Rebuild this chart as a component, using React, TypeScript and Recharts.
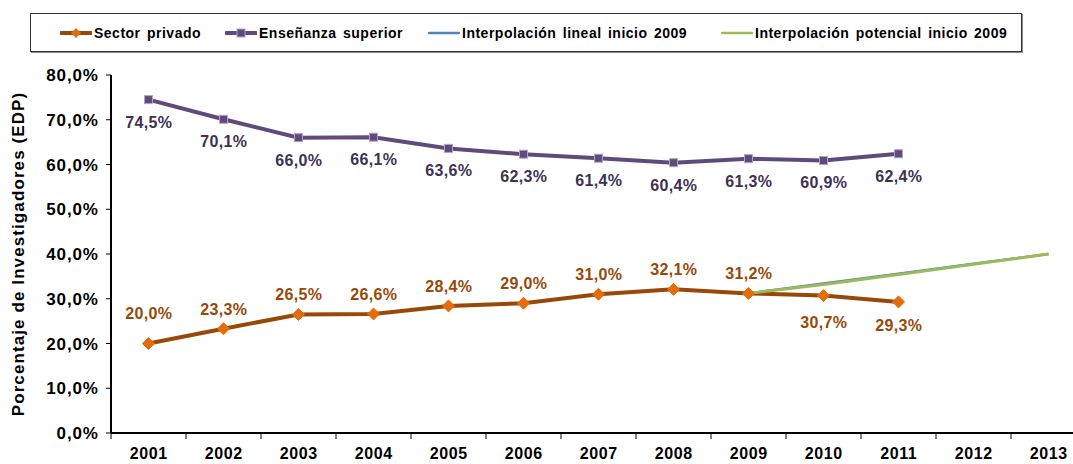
import React from 'react';
import { LineChart, Line, XAxis, YAxis, LabelList } from 'recharts';

const years = ['2001', '2002', '2003', '2004', '2005', '2006', '2007', '2008', '2009', '2010', '2011', '2012', '2013'];
const sectorPrivado: (number | null)[] = [20.0, 23.3, 26.5, 26.6, 28.4, 29.0, 31.0, 32.1, 31.2, 30.7, 29.3, null, null];
const ensenanzaSuperior: (number | null)[] = [74.5, 70.1, 66.0, 66.1, 63.6, 62.3, 61.4, 60.4, 61.3, 60.9, 62.4, null, null];
const interpLineal: (number | null)[] = [null, null, null, null, null, null, null, null, 31.2, 33.4, 35.6, 37.8, 40.0];
const interpPotencial: (number | null)[] = [null, null, null, null, null, null, null, null, 31.2, 33.2, 35.4, 37.7, 40.0];
const yTicks = [0, 10, 20, 30, 40, 50, 60, 70, 80];

const data = years.map((y, i) => ({
  year: y,
  sector: sectorPrivado[i],
  ens: ensenanzaSuperior[i],
  lin: interpLineal[i],
  pot: interpPotencial[i],
}));

const FONT = '"Liberation Sans", Arial, sans-serif';
const fmt = (v: number) => v.toFixed(1).replace('.', ',') + '%';

const C_SECTOR_LINE = '#984807';
const C_SECTOR_DOT = '#E46C0A';
const C_ENS_LINE = '#604A7B';
const C_ENS_LABEL = '#403152';
const C_LIN = '#4F81BD';
const C_POT = '#9BBB59';

const BAND = 75;

const XTick = (props: any) => {
  const { x, y, payload, index } = props;
  return (
    <g>
      <line x1={x - BAND / 2} y1={y} x2={x - BAND / 2} y2={y + 6} stroke="#000" strokeWidth={1} />
      {index === years.length - 1 && (
        <line x1={x + BAND / 2} y1={y} x2={x + BAND / 2} y2={y + 6} stroke="#000" strokeWidth={1} />
      )}
      <text x={x + 0.3} y={y + 26} textAnchor="middle" fontFamily={FONT} fontWeight="bold" fontSize={16} letterSpacing={0.6} fill="#000">
        {payload.value}
      </text>
    </g>
  );
};

const YTick = (props: any) => {
  const { x, y, payload } = props;
  return (
    <text x={x + 0.9} y={y} dy="0.36em" textAnchor="end" fontFamily={FONT} fontWeight="bold" fontSize={17} letterSpacing={0.9} fill="#000">
      {fmt(payload.value)}
    </text>
  );
};

const DiamondDot = (props: any) => {
  const { cx, cy, value } = props;
  if (value == null || cx == null || cy == null) return null;
  const r = 6;
  return <path d={`M${cx},${cy - r}L${cx + r},${cy}L${cx},${cy + r}L${cx - r},${cy}Z`} fill={C_SECTOR_DOT} stroke={C_SECTOR_DOT} strokeWidth={1} />;
};

const SquareDot = (props: any) => {
  const { cx, cy, value } = props;
  if (value == null || cx == null || cy == null) return null;
  const s = 8;
  return <rect x={cx - s / 2} y={cy - s / 2} width={s} height={s} fill={C_ENS_LINE} stroke="#B3A2C7" strokeWidth={1} />;
};

const sectorLabel = (props: any) => {
  const { x, y, value, index } = props;
  if (value == null) return null;
  let dy = -20;
  if (index === 0) dy = -31;
  if (index === 9) dy = 26;
  if (index === 10) dy = 23;
  return (
    <text x={x + 0.3} y={y + dy} dy={6} textAnchor="middle" fontFamily={FONT} fontWeight="bold" fontSize={16} letterSpacing={0.3} fill={C_SECTOR_LINE}>
      {fmt(value)}
    </text>
  );
};

const ensLabel = (props: any) => {
  const { x, y, value } = props;
  if (value == null) return null;
  return (
    <text x={x + 0.3} y={y + 22} dy={6} textAnchor="middle" fontFamily={FONT} fontWeight="bold" fontSize={16} letterSpacing={0.3} fill={C_ENS_LABEL}>
      {fmt(value)}
    </text>
  );
};

const legendItems = [
  { name: 'Sector privado', color: C_SECTOR_LINE, marker: 'diamond', left: 60 },
  { name: 'Enseñanza superior', color: C_ENS_LINE, marker: 'square', left: 225 },
  { name: 'Interpolación lineal inicio 2009', color: C_LIN, marker: 'none', left: 428 },
  { name: 'Interpolación potencial inicio 2009', color: C_POT, marker: 'none', left: 721 },
];

const LegendBox = () => (
  <div
    style={{
      position: 'absolute',
      left: 30,
      top: 13,
      width: 990,
      height: 37,
      border: '1px solid #333',
      boxShadow: '1px 1px 0 #888',
      background: '#fff',
    }}
  >
    {legendItems.map((it) => (
      <div key={it.name} style={{ position: 'absolute', left: it.left - 31, top: 0, height: 37, display: 'flex', alignItems: 'center' }}>
        <svg width={32} height={12} style={{ display: 'block' }}>
          <line x1={1} y1={6} x2={31} y2={6} stroke={it.color} strokeWidth={it.marker === 'none' ? 2.5 : 4} strokeLinecap="round" />
          {it.marker === 'diamond' && <path d="M16,1L21,6L16,11L11,6Z" fill={C_SECTOR_DOT} />}
          {it.marker === 'square' && <rect x={12} y={2} width={8} height={8} fill={C_ENS_LINE} stroke="#B3A2C7" strokeWidth={1} />}
        </svg>
        <span style={{ fontFamily: FONT, fontWeight: 'bold', fontSize: 14, color: '#000', marginLeft: 2, whiteSpace: 'nowrap', letterSpacing: 0.5, wordSpacing: 2 }}>
          {it.name}
        </span>
      </div>
    ))}
  </div>
);

export default function App() {
  return (
    <div style={{ position: 'absolute', left: 0, top: 0, width: 1073, height: 464, overflow: 'hidden', background: '#fff' }}>
      <LineChart width={1100} height={464} data={data} margin={{ top: 75, right: 14, bottom: 0, left: 41 }}>
        <XAxis
          dataKey="year"
          scale="band"
          height={31}
          axisLine={{ stroke: '#000', strokeWidth: 2 }}
          tickLine={false}
          tickSize={0}
          tickMargin={0}
          tick={<XTick />}
          interval={0}
        />
        <YAxis
          domain={[0, 80]}
          ticks={yTicks}
          width={70}
          interval={0}
          axisLine={{ stroke: '#000', strokeWidth: 2 }}
          tickLine={{ stroke: '#000', strokeWidth: 1 }}
          tickSize={5}
          tickMargin={8}
          tick={<YTick />}
          label={{
            value: 'Porcentaje de Investigadores (EDP)',
            position: 'insideLeft',
            content: () => (
              <text x={18} y={254} transform={`rotate(-90 18 254)`} textAnchor="middle" dominantBaseline="central" fontFamily={FONT} fontWeight="bold" fontSize={17} letterSpacing={1.1} fill="#000">
                Porcentaje de Investigadores (EDP)
              </text>
            ),
          }}
        />
        <Line dataKey="sector" name="Sector privado" stroke={C_SECTOR_LINE} strokeWidth={4} dot={<DiamondDot />} isAnimationActive={false} connectNulls={false}>
          <LabelList dataKey="sector" content={sectorLabel} />
        </Line>
        <Line dataKey="ens" name="Enseñanza superior" stroke={C_ENS_LINE} strokeWidth={4} dot={<SquareDot />} isAnimationActive={false}>
          <LabelList dataKey="ens" content={ensLabel} />
        </Line>
        <Line dataKey="lin" name="Interpolación lineal inicio 2009" stroke={C_LIN} strokeWidth={2.5} dot={false} isAnimationActive={false} />
        <Line dataKey="pot" name="Interpolación potencial inicio 2009" stroke={C_POT} strokeWidth={3} dot={false} isAnimationActive={false} />
      </LineChart>
      <LegendBox />
    </div>
  );
}
